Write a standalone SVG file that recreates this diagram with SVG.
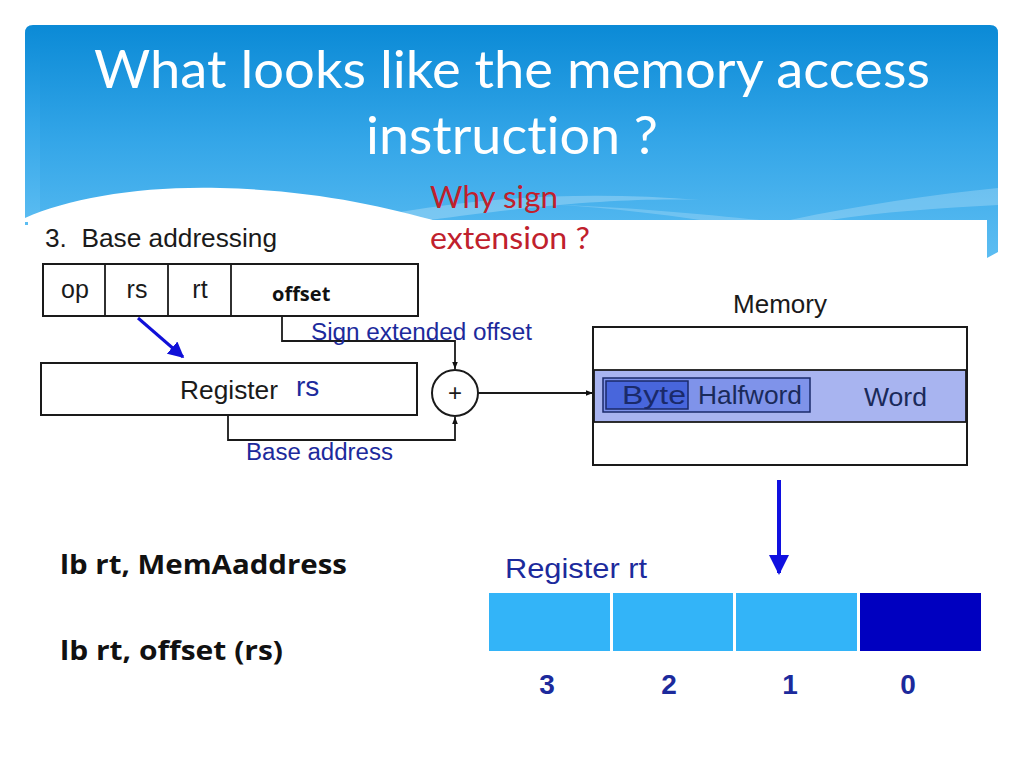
<svg xmlns="http://www.w3.org/2000/svg" width="1024" height="768" viewBox="0 0 1024 768">
<defs>
<linearGradient id="hdr" x1="0" y1="0" x2="0" y2="1">
<stop offset="0" stop-color="#0b8ad6"/>
<stop offset="0.5" stop-color="#34a6e8"/>
<stop offset="1" stop-color="#5cbdf2"/>
</linearGradient>
<marker id="ah" viewBox="0 0 10 10" refX="10" refY="5" markerWidth="7" markerHeight="7" orient="auto" markerUnits="userSpaceOnUse">
<path d="M0,1 L10,5 L0,9 Z" fill="#111"/>
</marker>
<marker id="ahb" viewBox="0 0 10 10" refX="9" refY="5" markerWidth="16" markerHeight="16" orient="auto" markerUnits="userSpaceOnUse">
<path d="M0,0 L10,5 L0,10 Z" fill="#1010d8"/>
</marker>
<marker id="ahb2" viewBox="0 0 10 10" refX="9" refY="5" markerWidth="20" markerHeight="20" orient="auto" markerUnits="userSpaceOnUse">
<path d="M0,0 L10,5 L0,10 Z" fill="#1010e0"/>
</marker>
</defs>
<style>
text{font-variant-ligatures:none}
.title{font-family:Lato,"Open Sans",sans-serif;font-size:52px;fill:#ffffff}
.red{font-family:Lato,"Open Sans",sans-serif;font-size:31px;fill:#c0202c}
.ar{font-family:"Liberation Sans",Arial,sans-serif;fill:#1a1a1a}
.blu{font-family:"Liberation Sans",Arial,sans-serif;fill:#1c2a9c}
.box{fill:#ffffff;stroke:#1a1a1a;stroke-width:2}
.ln{fill:none;stroke:#1a1a1a;stroke-width:1.8}
.bold{font-family:"Open Sans",Lato,sans-serif;font-weight:bold;fill:#111}
</style>
<rect width="1024" height="768" fill="#ffffff"/>
<g id="header">
<path d="M33,25 H990 Q998,25 998,33 V252 L987,258 V222 H28 Z" fill="url(#hdr)"/>
<path d="M25,33 Q25,25 33,25 H40 V225 H25 Z" fill="url(#hdr)"/>
<path d="M400,212 C500,195 600,192 700,200 C640,198 560,202 430,220 Z" fill="#ffffff" opacity="0.25"/>
<path d="M560,205 C640,208 700,214 760,220 L700,220 C660,214 610,208 560,205 Z" fill="#ffffff" opacity="0.2"/>
<path d="M790,220 C860,205 930,195 998,188 V205 C940,208 880,212 830,220 Z" fill="#ffffff" opacity="0.22"/>
<path d="M25,218 C70,198 140,186 220,188 C310,190 380,205 440,222 H25 Z" fill="#ffffff"/>
<rect x="28" y="220" width="959" height="548" fill="#ffffff"/>
<text class="title" x="512" y="88" text-anchor="middle" textLength="836" lengthAdjust="spacingAndGlyphs">What looks like the memory access</text>
<text class="title" x="512" y="154" text-anchor="middle" textLength="292" lengthAdjust="spacingAndGlyphs">instruction ?</text>
</g>
<g id="why">
<text class="red" x="430" y="208" textLength="128" lengthAdjust="spacingAndGlyphs">Why sign</text>
<text class="red" x="430" y="249" textLength="160" lengthAdjust="spacingAndGlyphs">extension ?</text>
</g>
<text class="ar" x="45" y="247" font-size="25" textLength="232" lengthAdjust="spacingAndGlyphs" xml:space="preserve">3.  Base addressing</text>
<g id="instruction">
<rect class="box" x="43" y="264" width="375" height="52"/>
<line class="ln" x1="105" y1="264" x2="105" y2="316"/>
<line class="ln" x1="168" y1="264" x2="168" y2="316"/>
<line class="ln" x1="231" y1="264" x2="231" y2="316"/>
<text class="ar" x="75" y="298" font-size="25" text-anchor="middle">op</text>
<text class="ar" x="137" y="298" font-size="25" text-anchor="middle">rs</text>
<text class="ar" x="200" y="298" font-size="25" text-anchor="middle">rt</text>
<text class="bold" x="272" y="301" font-size="20">offset</text>
</g>
<g id="register-rs">
<rect class="box" x="41" y="363" width="376" height="52"/>
<text class="ar" x="180" y="399" font-size="25" textLength="98" lengthAdjust="spacingAndGlyphs">Register</text>
<text class="blu" x="296" y="396" font-size="28">rs</text>
</g>
<g id="adder">
<circle cx="455" cy="393" r="23" fill="#fff" stroke="#1a1a1a" stroke-width="2"/>
<text class="ar" x="455" y="401" font-size="24" text-anchor="middle">+</text>
</g>
<g id="memory">
<text class="ar" x="733" y="313" font-size="25" textLength="94" lengthAdjust="spacingAndGlyphs">Memory</text>
<rect class="box" x="593" y="327" width="374" height="138"/>
<rect x="594" y="370" width="372" height="52" fill="#a8b4f0" stroke="#1a1a1a" stroke-width="1.8"/>
<rect x="603" y="378" width="207" height="34" fill="#7f93ea" stroke="#1a2a6a" stroke-width="1.5"/>
<rect x="606" y="381" width="82" height="28" fill="#4866dc" stroke="#1a2a6a" stroke-width="1.5"/>
<text class="ar" x="622" y="404" font-size="25" textLength="64" lengthAdjust="spacingAndGlyphs" style="fill:#1a2a6a">Byte</text>
<text class="ar" x="698" y="404" font-size="25" textLength="104" lengthAdjust="spacingAndGlyphs" style="fill:#1a2a5a">Halfword</text>
<text class="ar" x="864" y="406" font-size="25" textLength="63" lengthAdjust="spacingAndGlyphs" style="fill:#1a2a5a">Word</text>
</g>
<g id="register-rt">
<text class="blu" x="505" y="578" font-size="28" textLength="142" lengthAdjust="spacingAndGlyphs">Register rt</text>
<rect x="489" y="593" width="121" height="58" fill="#33b4f8"/>
<rect x="613" y="593" width="120" height="58" fill="#33b4f8"/>
<rect x="736" y="593" width="121" height="58" fill="#33b4f8"/>
<rect x="860" y="593" width="121" height="58" fill="#0000c0"/>
<text class="blu" x="547" y="694" font-size="28" font-weight="bold" text-anchor="middle">3</text>
<text class="blu" x="669" y="694" font-size="28" font-weight="bold" text-anchor="middle">2</text>
<text class="blu" x="790" y="694" font-size="28" font-weight="bold" text-anchor="middle">1</text>
<text class="blu" x="908" y="694" font-size="28" font-weight="bold" text-anchor="middle">0</text>
</g>
<g id="connectors">
<polyline class="ln" points="282,316 282,341 455,341 455,369" marker-end="url(#ah)"/>
<polyline class="ln" points="228,415 228,440 455,440 455,417" marker-end="url(#ah)"/>
<line class="ln" x1="478" y1="393" x2="593" y2="393" marker-end="url(#ah)"/>
<line x1="138" y1="318" x2="183" y2="357" stroke="#1010d8" stroke-width="3" marker-end="url(#ahb)"/>
<line x1="779" y1="480" x2="779" y2="573" stroke="#1010e0" stroke-width="4" marker-end="url(#ahb2)"/>
</g>
<g id="labels">
<text class="blu" x="311" y="340" font-size="23" textLength="221" lengthAdjust="spacingAndGlyphs">Sign extended offset</text>
<text class="blu" x="246" y="460" font-size="23" textLength="147" lengthAdjust="spacingAndGlyphs">Base address</text>
</g>
<g id="instructions">
<text class="bold" x="60" y="574" font-size="27" textLength="287" lengthAdjust="spacingAndGlyphs">lb rt, MemAaddress</text>
<text class="bold" x="60" y="660" font-size="27" textLength="223" lengthAdjust="spacingAndGlyphs">lb rt, offset (rs)</text>
</g>
</svg>
